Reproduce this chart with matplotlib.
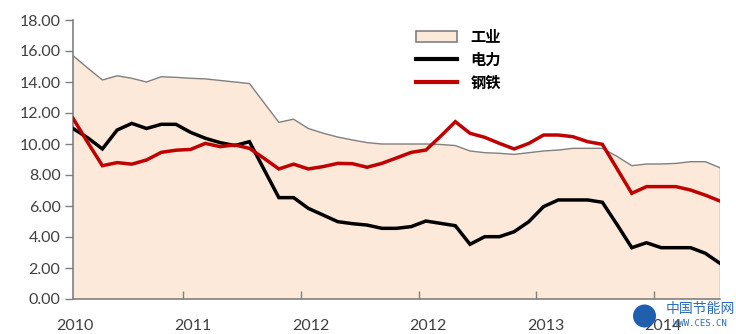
import matplotlib
matplotlib.use("Agg")
import matplotlib.pyplot as plt
from matplotlib.patches import Patch, Circle
from matplotlib.lines import Line2D
import numpy as np

plt.rcParams['font.family'] = ['Lato', 'Noto Sans CJK SC', 'DejaVu Sans']

industry = [15.7, 14.9, 14.13, 14.4, 14.24, 14.0, 14.34, 14.3, 14.24, 14.2,
            14.1, 14.0, 13.9, 12.65, 11.4, 11.6, 11.0, 10.7, 10.45, 10.26,
            10.09, 10.0, 10.0, 10.0, 10.0, 9.97, 9.9, 9.55, 9.44, 9.4,
            9.33, 9.44, 9.55, 9.61, 9.72, 9.72, 9.72, 9.2, 8.6, 8.71,
            8.71, 8.75, 8.86, 8.86, 8.47]
power = [11.0, 10.4, 9.68, 10.9, 11.33, 11.0, 11.27, 11.27, 10.75, 10.37,
         10.09, 9.9, 10.15, 8.34, 6.54, 6.54, 5.85, 5.42, 4.99, 4.86,
         4.77, 4.56, 4.56, 4.67, 5.03, 4.88, 4.73, 3.53, 4.02, 4.02,
         4.34, 4.99, 5.96, 6.39, 6.39, 6.39, 6.24, 4.8, 3.31, 3.63,
         3.31, 3.31, 3.31, 2.95, 2.3]
steel = [11.66, 10.1, 8.6, 8.8, 8.7, 8.97, 9.46, 9.6, 9.65, 10.04,
         9.83, 9.94, 9.72, 9.07, 8.39, 8.7, 8.39, 8.54, 8.75, 8.73,
         8.5, 8.75, 9.1, 9.46, 9.61, 10.5, 11.44, 10.69, 10.43, 10.04,
         9.68, 10.04, 10.58, 10.58, 10.47, 10.15, 9.98, 8.4, 6.82, 7.25,
         7.25, 7.25, 7.03, 6.7, 6.32]
x_labels = ['2010', '2011', '2012', '2012', '2013', '2014']
label_pos = [0, 8, 16, 24, 32, 40]
tick_pos = [7.5, 15.5, 23.5, 31.5, 39.5]
y_ticks = [0, 2, 4, 6, 8, 10, 12, 14, 16, 18]
names = ['工业', '电力', '钢铁']

x = np.arange(len(industry))

fig = plt.figure(figsize=(7.36, 3.34), dpi=100)
ax = fig.add_axes([73/736, 1-299/334, (720-73)/736, (299-20)/334])

ax.fill_between(x, 0, industry, facecolor='#FDE9D9', edgecolor='none', zorder=1)
ax.plot(x, industry, color='#808080', lw=1.0, zorder=2)
ax.plot([x[-1], x[-1]], [0, industry[-1]], color='#808080', lw=1.0, zorder=2)
ax.plot(x, power, color='black', lw=2.5, zorder=3, solid_joinstyle='miter')
ax.plot(x, steel, color='#C00000', lw=2.5, zorder=4, solid_joinstyle='miter')

ax.set_xlim(0, len(industry) - 1)
ax.set_ylim(0, 18)
ax.set_yticks(y_ticks)
ax.set_yticklabels([f'{v:.2f}' for v in y_ticks])
ax.set_xticks(tick_pos)
ax.set_xticklabels([])
ax.tick_params(axis='x', direction='in', length=6, color='#808080', width=1)
ax.tick_params(axis='y', direction='out', length=6, color='#808080', width=1,
               labelsize=11.5, labelcolor='#404040', pad=3)
for lp, lab in zip(label_pos, x_labels):
    ax.text(lp + 0.15, -1.75, lab, ha='center', va='center', fontsize=11.5,
            color='#404040', transform=ax.transData, clip_on=False)

for s in ['top', 'right']:
    ax.spines[s].set_visible(False)
for s in ['left', 'bottom']:
    ax.spines[s].set_color('#808080')
    ax.spines[s].set_linewidth(1.2)

handles = [Patch(facecolor='#FDE9D9', edgecolor='#808080', lw=1.2),
           Line2D([], [], color='black', lw=3),
           Line2D([], [], color='#C00000', lw=3)]
leg = ax.legend(handles, names, loc='upper left', bbox_to_anchor=(408/736, 1-21/334),
                bbox_transform=fig.transFigure, frameon=False, fontsize=11,
                handlelength=2.7, handleheight=0.7, labelspacing=0.45,
                handletextpad=0.9, borderpad=0)
for t in leg.get_texts():
    t.set_fontweight('bold')
    t.set_family(['Noto Sans CJK SC'])

# watermark
fig.patches.append(Circle((644.5, 334-316), 11.5, transform=None,
                          facecolor='#1F5FAE', edgecolor='none', zorder=10))
fig.text(700/736, 1-309/334, '中国节能网', ha='center', va='center', fontsize=10,
         color='#2E6DB8', family=['Noto Sans CJK SC'], zorder=11)
fig.text(700/736, 1-323/334, 'WWW.CES.CN', ha='center', va='center', fontsize=6.5,
         color='#2E6DB8', family=['DejaVu Sans Mono'], zorder=11)

fig.savefig('out.png', dpi=100)
